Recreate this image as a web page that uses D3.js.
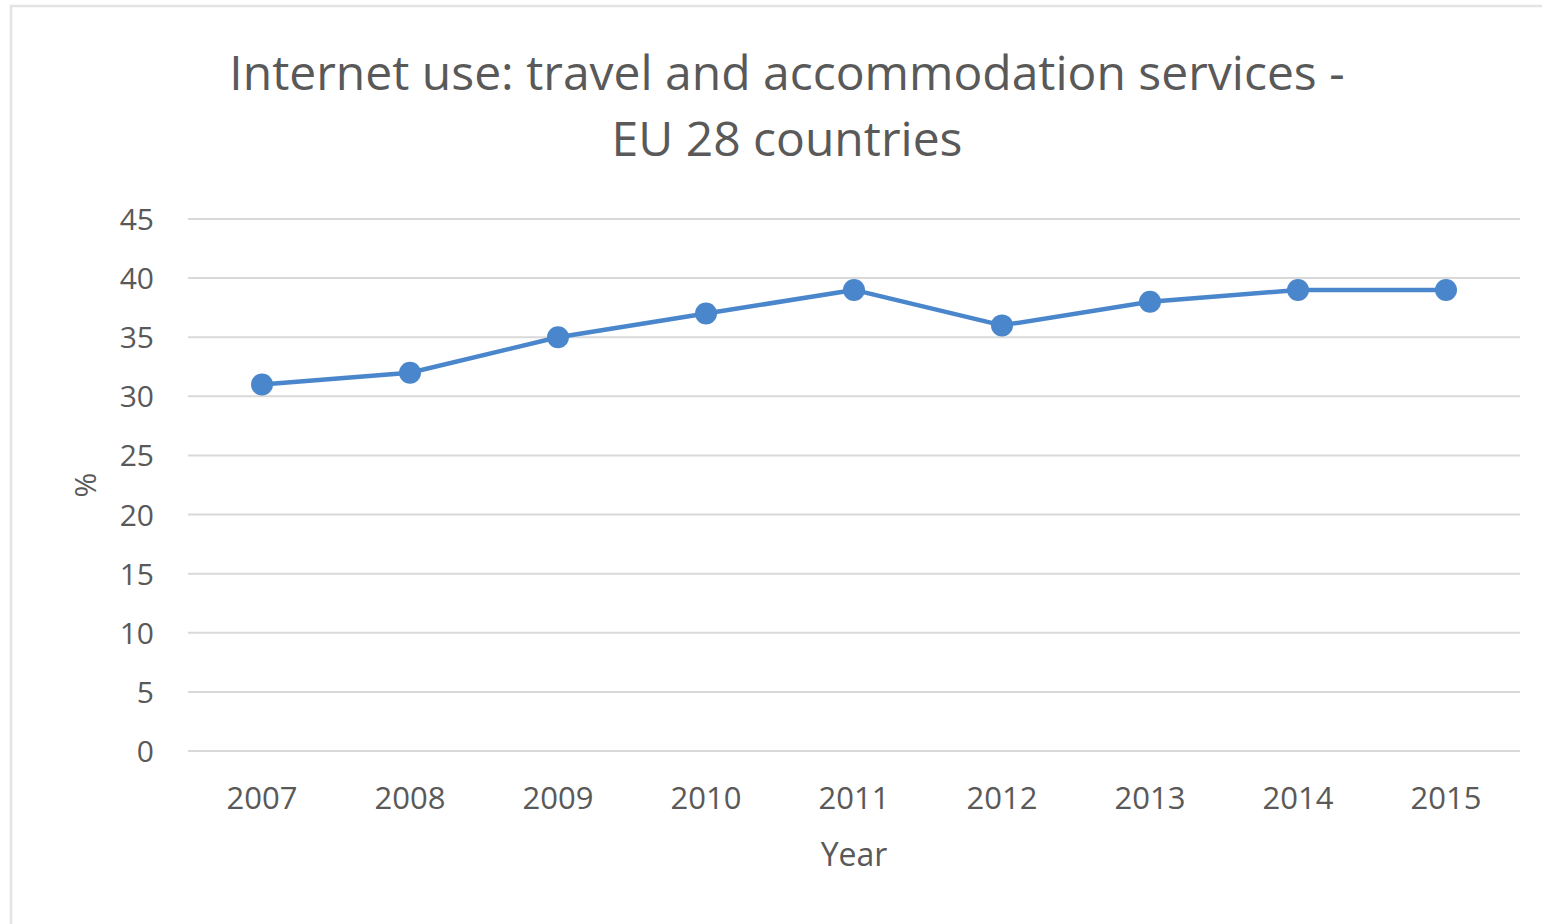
<!DOCTYPE html>
<html>
<head>
<meta charset="utf-8">
<script src="https://cdn.jsdelivr.net/npm/d3@7/dist/d3.min.js"></script>
<style>
  html, body { margin: 0; padding: 0; background: #fff; }
  svg { display: block; }
  text { font-family: "Open Sans", "Noto Sans", sans-serif; fill: #595959; }
</style>
</head>
<body>
<svg id="chart" width="1542" height="924"></svg>
<script>
// Share of individuals using the internet for travel and accommodation services, EU 28
const years = ["2007", "2008", "2009", "2010", "2011", "2012", "2013", "2014", "2015"];
const percentValues = [31, 32, 35, 37, 39, 36, 38, 39, 39];
const yTickValues = [0, 5, 10, 15, 20, 25, 30, 35, 40, 45];
const titleLines = ["Internet use: travel and accommodation services -", "EU 28 countries"];
const xAxisTitle = "Year";
const yAxisTitle = "%";

const svg = d3.select("#chart");
const W = 1542, H = 924;

// Chart frame
svg.append("rect")
  .attr("x", 11).attr("y", 6)
  .attr("width", W + 10).attr("height", H + 10)
  .attr("fill", "#fff")
  .attr("stroke", "#e3e3e3").attr("stroke-width", 2.5);

const plot = { left: 188, right: 1520, top: 219, bottom: 751 };

const x = d3.scaleBand().domain(years).range([plot.left, plot.right]);
const y = d3.scaleLinear().domain([0, 45]).range([plot.bottom, plot.top]);

// Title
svg.append("g").selectAll("text")
  .data(titleLines)
  .join("text")
  .attr("x", 787)
  .attr("y", (d, i) => 90 + i * 66)
  .attr("text-anchor", "middle")
  .attr("font-size", 48)
  .style("fill", "#595959")
  .text(d => d);

// Horizontal gridlines
svg.append("g").selectAll("line")
  .data(yTickValues)
  .join("line")
  .attr("x1", plot.left).attr("x2", plot.right)
  .attr("y1", d => y(d)).attr("y2", d => y(d))
  .attr("stroke", "#d9d9d9").attr("stroke-width", 2);

// Y axis labels
const yAxis = d3.axisLeft(y).tickValues(yTickValues).tickSize(0).tickPadding(0);
const gy = svg.append("g").attr("transform", `translate(${plot.left - 34},0)`).call(yAxis);
gy.select(".domain").remove();
gy.selectAll("text").attr("font-size", 30).style("fill", "#595959").attr("dy", "0.35em")
  .attr("font-family", "Open Sans");

// X axis labels
const xAxis = d3.axisBottom(x).tickSize(0).tickPadding(0);
const gx = svg.append("g").attr("transform", `translate(0,${plot.bottom + 47})`).call(xAxis);
gx.select(".domain").remove();
gx.selectAll("text").attr("font-size", 31).style("fill", "#595959").attr("dy", "0.35em")
  .attr("font-family", "Open Sans");

// Axis titles
svg.append("text")
  .attr("x", x("2011") + x.bandwidth() / 2).attr("y", 866)
  .attr("text-anchor", "middle").attr("font-size", 32)
  .text(xAxisTitle);

svg.append("text")
  .attr("transform", `translate(96,${(plot.top + plot.bottom) / 2}) rotate(-90)`)
  .attr("text-anchor", "middle").attr("font-size", 30)
  .text(yAxisTitle);

// Series line and markers
const cx = d => x(d) + x.bandwidth() / 2;
const color = "#4a86cc";
const pts = years.map((yr, i) => [cx(yr), y(percentValues[i])]);

svg.append("path")
  .datum(pts)
  .attr("d", d3.line())
  .attr("fill", "none")
  .attr("stroke", color).attr("stroke-width", 4.5)
  .attr("stroke-linejoin", "round");

svg.append("g").selectAll("circle")
  .data(pts)
  .join("circle")
  .attr("cx", d => d[0]).attr("cy", d => d[1])
  .attr("r", 11)
  .attr("fill", color);
</script>
</body>
</html>
